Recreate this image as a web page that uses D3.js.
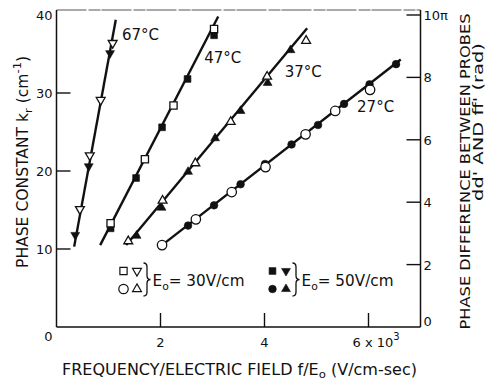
<!DOCTYPE html>
<html>
<head>
<meta charset="utf-8">
<script src="https://cdn.jsdelivr.net/npm/d3@7"></script>
<style>
  html, body { margin: 0; padding: 0; background: #fff; }
  svg { display: block; font-family: "DejaVu Sans", sans-serif; }
</style>
</head>
<body>
<svg id="chart" width="489" height="382"></svg>
<script>
// ---- data: f/E0 in units of 10^3 V/cm-sec, k_r in cm^-1 ----
const runTemps = ["67°C", "47°C", "37°C", "27°C"];

// E0 = 30 V/cm (open symbols)
const t67_e30 = [[1.08, 36.4], [0.85, 29.1], [0.64, 22.0], [0.45, 15.1]];
const t47_e30 = [[3.03, 38.2], [2.25, 28.4], [1.70, 21.5], [1.04, 13.3]];
const t37_e30 = [[4.80, 36.7], [4.05, 32.1], [3.35, 26.3], [2.67, 21.0], [2.04, 16.2], [1.38, 11.0]];
const t27_e30 = [[2.03, 10.5], [2.68, 13.8], [3.37, 17.3], [4.02, 20.5], [4.79, 24.7], [5.36, 27.7], [6.03, 30.4]];

// E0 = 50 V/cm (filled symbols)
const t67_e50 = [[1.03, 35.1], [0.62, 20.6], [0.36, 11.8]];
const t47_e50 = [[3.03, 37.4], [2.52, 31.8], [2.03, 25.6], [1.53, 19.1], [1.04, 12.65]];
const t37_e50 = [[4.50, 35.5], [4.06, 31.3], [3.54, 27.7], [3.05, 24.2], [2.53, 19.9], [2.02, 15.3], [1.54, 11.7]];
const t27_e50 = [[2.53, 13.0], [3.03, 15.6], [3.54, 18.3], [4.01, 20.9], [4.52, 23.4], [5.03, 25.9], [5.53, 28.6], [6.02, 31.1], [6.53, 33.7]];

// straight-line fits, [start, end]
const fit67 = [[0.34, 10.3], [1.14, 39.4]];
const fit47 = [[0.84, 10.5], [3.11, 39.8]];
const fit37 = [[1.34, 10.5], [4.82, 38.3]];
const fit27 = [[2.03, 10.5], [6.62, 34.3]];

// axis ticks
const xTicks = [2, 4, 6];
const yTicks = [10, 20, 30];
const yTickLabels = [10, 20, 30, 40];
const rTicks = [2, 4, 6, 8, 10];
const rTickLabels = ["2", "4", "6", "8", "10π"];

// ---- layout ----
const svg = d3.select("#chart");
const x = d3.scaleLinear().domain([0, 7]).range([56.5, 420.5]);
const y = d3.scaleLinear().domain([0, 40.64]).range([327, 10]);
const yR = d3.scaleLinear().domain([0, 10.16]).range([327, 10]);   // phase difference, 10π at k_r = 40

const ink = "#111";
const tickLen = 14;

// frame
svg.append("line").attr("x1", x(0)).attr("x2", x(7)).attr("y1", y(40.64)).attr("y2", y(40.64))
  .attr("stroke", "#555").attr("stroke-width", 1).attr("stroke-dasharray", "30,2,12,1");
svg.append("line").attr("x1", x(0)).attr("x2", x(7)).attr("y1", y(0)).attr("y2", y(0))
  .attr("stroke", ink).attr("stroke-width", 1.6);
svg.append("line").attr("x1", x(0)).attr("x2", x(0)).attr("y1", y(0)).attr("y2", y(40.64))
  .attr("stroke", ink).attr("stroke-width", 1.5);
svg.append("line").attr("x1", x(7)).attr("x2", x(7)).attr("y1", y(0)).attr("y2", y(40.64))
  .attr("stroke", ink).attr("stroke-width", 1.5);

// inward ticks
const tickG = svg.append("g").attr("stroke", ink).attr("stroke-width", 1.4);
tickG.selectAll(".xt").data(xTicks).join("line")
  .attr("x1", d => x(d)).attr("x2", d => x(d)).attr("y1", y(0)).attr("y2", y(0) - tickLen);
tickG.selectAll(".yt").data(yTicks).join("line")
  .attr("x1", x(0)).attr("x2", x(0) + tickLen).attr("y1", d => y(d)).attr("y2", d => y(d));
tickG.selectAll(".rt").data(rTicks).join("line")
  .attr("x1", x(7)).attr("x2", x(7) - tickLen).attr("y1", d => yR(d)).attr("y2", d => yR(d));

// tick labels
const lab = svg.append("g").attr("fill", ink).attr("font-size", 13);
lab.selectAll(".yl").data(yTickLabels).join("text")
  .attr("x", x(0) - 4).attr("y", d => y(d) + 5).attr("text-anchor", "end").text(d => d);
lab.append("text").attr("x", x(0) - 4).attr("y", y(0) + 14).attr("text-anchor", "end").text("0");
lab.selectAll(".xl").data(xTicks).join("text")
  .attr("x", d => d === 6 ? x(d) - 16 : x(d)).attr("y", y(0) + 20)
  .attr("text-anchor", d => d === 6 ? "start" : "middle")
  .each(function (d) {
    const t = d3.select(this);
    if (d === 6) {
      t.append("tspan").text("6 x 10");
      t.append("tspan").attr("dy", -7).attr("font-size", 10).text("3");
    } else t.text(d);
  });
lab.selectAll(".rl").data(rTicks).join("text")
  .attr("x", x(7) + 3).attr("y", d => yR(d) + 5)
  .text((d, i) => rTickLabels[i]);
lab.append("text").attr("x", x(7) + 3).attr("y", yR(0) - 1).text("0");

// fitted lines
const fits = [fit67, fit47, fit37, fit27];
svg.append("g").selectAll("line").data(fits).join("line")
  .attr("x1", d => x(d[0][0])).attr("y1", d => y(d[0][1]))
  .attr("x2", d => x(d[1][0])).attr("y2", d => y(d[1][1]))
  .attr("stroke", ink).attr("stroke-width", 2.4).attr("stroke-linecap", "butt");

// symbols
const symTri = d3.symbol().type(d3.symbolTriangle);
const shapes = {
  square:   d3.symbol().type(d3.symbolSquare).size(52)(),
  squareF:  d3.symbol().type(d3.symbolSquare).size(46)(),
  circle:   d3.symbol().type(d3.symbolCircle).size(70)(),
  circleF:  d3.symbol().type(d3.symbolCircle).size(46)(),
  triUp:    symTri.size(34)(),
  triDown:  symTri.size(34)(),
};
function drawPts(pts, shape, filled, rot) {
  svg.append("g").selectAll("path").data(pts).join("path")
    .attr("d", shapes[shape])
    .attr("transform", d => `translate(${x(d[0])},${y(d[1])})` + (rot ? " rotate(180)" : ""))
    .attr("fill", filled ? ink : "#fff")
    .attr("stroke", ink).attr("stroke-width", filled ? 0.6 : 1.3);
}
// filled first, open drawn over them
drawPts(t67_e50, "triDown", true, true);
drawPts(t47_e50, "squareF", true, false);
drawPts(t37_e50, "triUp", true, false);
drawPts(t27_e50, "circleF", true, false);
drawPts(t67_e30, "triDown", false, true);
drawPts(t47_e30, "square", false, false);
drawPts(t37_e30, "triUp", false, false);
drawPts(t27_e30, "circle", false, false);

// temperature labels next to each line
const tempLabelAt = [[1.26, 36.8], [2.84, 33.8], [4.39, 32.05], [5.78, 27.6]];
svg.append("g").attr("font-size", 15).attr("fill", ink)
  .selectAll("text").data(runTemps).join("text")
  .attr("x", (d, i) => x(tempLabelAt[i][0])).attr("y", (d, i) => y(tempLabelAt[i][1]))
  .text(d => d);

// legend
function brace(x0, top, bot, w) {
  const m = (top + bot) / 2, r = 4, xm = x0 + w / 2;
  return `M${x0},${top} Q${xm},${top} ${xm},${top + r} L${xm},${m - r} Q${xm},${m} ${x0 + w},${m}` +
         ` Q${xm},${m} ${xm},${m + r} L${xm},${bot - r} Q${xm},${bot} ${x0},${bot}`;
}
function legendBlock(x0, shapesTop, shapesBot, filled, label) {
  const g = svg.append("g");
  const rows = [271, 289];
  [shapesTop, shapesBot].forEach((row, ri) => {
    row.forEach((s, ci) => {
      g.append("path").attr("d", shapes[s[0]])
        .attr("transform", `translate(${x0 + ci * 13.5},${rows[ri]})` + (s[1] ? " rotate(180)" : ""))
        .attr("fill", filled ? ink : "#fff").attr("stroke", ink)
        .attr("stroke-width", filled ? 0.6 : 1.2);
    });
  });
  g.append("path").attr("d", brace(x0 + 20, 263, 296, 7))
    .attr("fill", "none").attr("stroke", ink).attr("stroke-width", 1.3);
  const t = g.append("text").attr("x", x0 + 29).attr("y", 286).attr("font-size", 15.5).attr("fill", ink)
    .attr("textLength", 92).attr("lengthAdjust", "spacingAndGlyphs");
  t.append("tspan").text("E");
  t.append("tspan").attr("dy", 4).attr("font-size", 11).text("o");
  t.append("tspan").attr("dy", -4).text("= " + label);
}
legendBlock(123.5, [["square"], ["triDown", true]], [["circle"], ["triUp"]], false, "30V/cm");
legendBlock(272.5, [["squareF"], ["triDown", true]], [["circleF"], ["triUp"]], true, "50V/cm");

// axis titles
const xt = svg.append("text").attr("x", 62).attr("y", 375).attr("font-size", 15).attr("fill", ink)
  .attr("textLength", 355).attr("lengthAdjust", "spacingAndGlyphs");
xt.append("tspan").text("FREQUENCY/ELECTRIC FIELD  f/E");
xt.append("tspan").attr("dy", 3).attr("font-size", 11).text("o");
xt.append("tspan").attr("dy", -3).text(" (V/cm-sec)");

const yt = svg.append("text").attr("transform", "translate(28,162) rotate(-90)")
  .attr("text-anchor", "middle").attr("font-size", 15).attr("fill", ink)
  .attr("textLength", 212).attr("lengthAdjust", "spacingAndGlyphs");
yt.append("tspan").text("PHASE  CONSTANT  k");
yt.append("tspan").attr("dy", 4).attr("font-size", 11).text("r");
yt.append("tspan").attr("dy", -4).text(" (cm");
yt.append("tspan").attr("dy", -7).attr("font-size", 11).text("-1");
yt.append("tspan").attr("dy", 7).text(")");

svg.append("text").attr("transform", "translate(470,171.5) rotate(-90)")
  .attr("text-anchor", "middle").attr("font-size", 14.5).attr("fill", ink)
  .attr("textLength", 316).attr("lengthAdjust", "spacingAndGlyphs")
  .text("PHASE DIFFERENCE BETWEEN PROBES");
svg.append("text").attr("transform", "translate(483,122) rotate(-90)")
  .attr("text-anchor", "middle").attr("font-size", 13.5).attr("fill", ink)
  .attr("textLength", 158).attr("lengthAdjust", "spacingAndGlyphs")
  .text("dd' AND  ff' (rad)");
</script>
</body>
</html>
